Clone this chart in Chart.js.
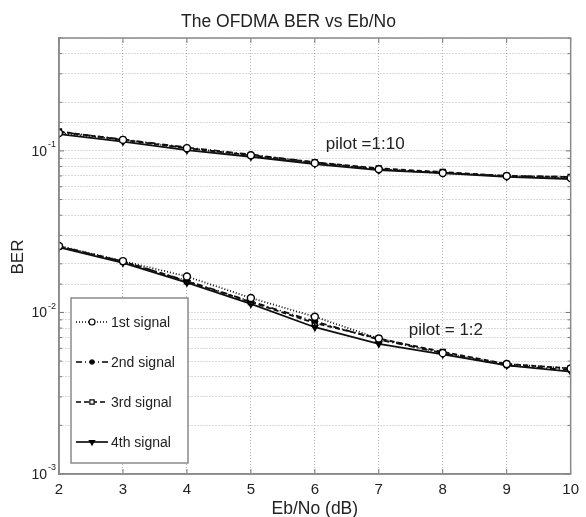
<!DOCTYPE html>
<html>
<head>
<meta charset="utf-8">
<title>The OFDMA BER vs Eb/No</title>
<script src="https://cdn.jsdelivr.net/npm/chart.js@4.4.1/dist/chart.umd.min.js"></script>
<style>
html,body{margin:0;padding:0;background:#fff;}
#box{position:relative;width:586px;height:517px;}
</style>
</head>
<body>
<div id="box"><canvas id="grafico" width="586" height="517"></canvas></div>
<script>
// dati
const ebno = [2, 3, 4, 5, 6, 7, 8, 9, 10];
const nomiSegnali = ['1st signal', '2nd signal', '3rd signal', '4th signal'];

// pilot = 1:10
const p10_s1 = [0.129, 0.117, 0.104, 0.094, 0.084, 0.077, 0.073, 0.070, 0.068];
const p10_s2 = [0.131, 0.118, 0.105, 0.095, 0.085, 0.077, 0.073, 0.070, 0.069];
const p10_s3 = [0.132, 0.117, 0.104, 0.094, 0.085, 0.078, 0.074, 0.070, 0.069];
const p10_s4 = [0.127, 0.114, 0.101, 0.092, 0.083, 0.076, 0.073, 0.069, 0.067];

// pilot = 1:2
const p2_s1 = [0.0258, 0.0208, 0.0167, 0.0123, 0.0094, 0.0069, 0.0056, 0.0048, 0.0045];
const p2_s2 = [0.0257, 0.0206, 0.0157, 0.0117, 0.0088, 0.0068, 0.0056, 0.0047, 0.0044];
const p2_s3 = [0.0256, 0.0207, 0.0156, 0.0116, 0.0086, 0.0069, 0.0057, 0.0048, 0.0045];
const p2_s4 = [0.0253, 0.0203, 0.0153, 0.0113, 0.0081, 0.0064, 0.0055, 0.0047, 0.0043];

const esponentiY = [-3, -2, -1];
const noteTesto = ['pilot =1:10', 'pilot = 1:2'];
const noteX = [6.17, 7.47];
const noteY = [0.1106, 0.0077];

(function(){
	const FONT = '"Liberation Sans", Arial, Helvetica, sans-serif';
	const stili = [
		{dash: [1, 2], punto: 'circle', fondo: '#fff', rot: 0},
		{dash: [6, 3, 1, 3], punto: 'star', fondo: '#000', rot: 0},
		{dash: [5, 3], punto: 'rect', fondo: '#fff', rot: 0},
		{dash: [], punto: 'triangle', fondo: '#000', rot: 180}
	];
	const serie10 = [p10_s1, p10_s2, p10_s3, p10_s4];
	const serie2 = [p2_s1, p2_s2, p2_s3, p2_s4];

	function dataset(valori, i){
		const s = stili[i];
		return {
			label: nomiSegnali[i],
			data: ebno.map((x, k) => ({x: x, y: valori[k]})),
			borderColor: '#111',
			borderWidth: 1.8,
			borderDash: s.dash,
			pointStyle: s.punto,
			pointRotation: s.rot,
			pointRadius: 3.5,
			pointBorderWidth: 1.4,
			pointBorderColor: '#000',
			pointBackgroundColor: s.fondo,
			fill: false,
			tension: 0
		};
	}

	const datasets = [];
	for(let i = 0; i < 4; i++){
		datasets.push(dataset(serie10[i], i));
		datasets.push(dataset(serie2[i], i));
	}

	// cornice, tacche, etichette, note e legenda
	const cornice = {
		id: 'cornice',
		afterDraw(chart){
			const ctx = chart.ctx;
			const a = chart.chartArea;
			const sx = chart.scales.x, sy = chart.scales.y;
			ctx.save();
			// tacche interne
			ctx.strokeStyle = '#777';
			ctx.lineWidth = 1;
			ctx.setLineDash([]);
			sx.ticks.forEach(t => {
				const px = sx.getPixelForValue(t.value);
				ctx.beginPath();
				ctx.moveTo(px, a.bottom); ctx.lineTo(px, a.bottom - 5);
				ctx.moveTo(px, a.top); ctx.lineTo(px, a.top + 5);
				ctx.stroke();
			});
			sy.ticks.forEach(t => {
				const py = sy.getPixelForValue(t.value);
				const l = Number.isInteger(Math.round(Math.log10(t.value) * 1000) / 1000) ? 5 : 3;
				ctx.beginPath();
				ctx.moveTo(a.left, py); ctx.lineTo(a.left + l, py);
				ctx.moveTo(a.right, py); ctx.lineTo(a.right - l, py);
				ctx.stroke();
			});
			// bordo
			ctx.strokeStyle = '#8a8a8a';
			ctx.lineWidth = 1.5;
			ctx.strokeRect(a.left, a.top, a.right - a.left, a.bottom - a.top);

			// etichette asse y con esponente
			ctx.fillStyle = '#222';
			esponentiY.forEach(e => {
				const py = sy.getPixelForValue(Math.pow(10, e));
				ctx.font = '14px ' + FONT;
				ctx.textAlign = 'right';
				ctx.textBaseline = 'middle';
				ctx.fillText('10', 47, py + 1);
				ctx.font = '9px ' + FONT;
				ctx.textAlign = 'left';
				ctx.fillText(String(e), 48, py - 6);
			});

			// titoli assi
			ctx.font = '17.5px ' + FONT;
			ctx.textAlign = 'center';
			ctx.textBaseline = 'middle';
			ctx.fillText('Eb/No (dB)', (a.left + a.right) / 2, 509);
			ctx.save();
			ctx.translate(18, 257);
			ctx.rotate(-Math.PI / 2);
			ctx.font = '17px ' + FONT;
			ctx.fillText('BER', 0, 0);
			ctx.restore();

			// note
			ctx.font = '17px ' + FONT;
			ctx.textAlign = 'left';
			ctx.textBaseline = 'middle';
			noteTesto.forEach((t, i) => {
				ctx.fillText(t, sx.getPixelForValue(noteX[i]), sy.getPixelForValue(noteY[i]));
			});

			// legenda
			const lx = 71, ly = 298, lw = 117, lh = 165;
			ctx.fillStyle = '#fff';
			ctx.fillRect(lx, ly, lw, lh);
			ctx.strokeStyle = '#8a8a8a';
			ctx.lineWidth = 1.5;
			ctx.strokeRect(lx, ly, lw, lh);
			ctx.font = '14px ' + FONT;
			nomiSegnali.forEach((nome, i) => {
				const s = stili[i];
				const y = 322 + i * 40;
				ctx.strokeStyle = '#000';
				ctx.lineWidth = 1.6;
				ctx.setLineDash(s.dash);
				ctx.beginPath();
				ctx.moveTo(76, y); ctx.lineTo(108, y);
				ctx.stroke();
				ctx.setLineDash([]);
				ctx.fillStyle = s.fondo;
				ctx.lineWidth = 1.2;
				Chart.helpers.drawPoint(ctx, {pointStyle: s.punto, rotation: s.rot, radius: 3, borderWidth: 1.2}, 92, y);
				ctx.fillStyle = '#222';
				ctx.textAlign = 'left';
				ctx.fillText(nome, 111, y + 1);
			});
			ctx.restore();
		}
	};

	function creaGrafico(){
		const canvas = document.getElementById('grafico');
		const griglia = {color: '#b4b4b4', lineWidth: 1, drawTicks: false};
		const bordo = {display: true, color: '#8a8a8a', width: 1.5, dash: [1, 2]};
		return new Chart(canvas.getContext('2d'), {
			type: 'line',
			data: {datasets: datasets},
			options: {
				responsive: false,
				animation: false,
				devicePixelRatio: 1,
				layout: {padding: {left: 0, right: 9, top: 0, bottom: 0}},
				plugins: {
					legend: {display: false},
					tooltip: {enabled: false},
					title: {
						display: true,
						text: 'The OFDMA BER vs Eb/No',
						color: '#222',
						font: {family: FONT, size: 17.5, weight: 'normal'},
						padding: {top: 12, bottom: 5}
					}
				},
				scales: {
					x: {
						type: 'linear',
						min: 2, max: 10,
						ticks: {stepSize: 1, color: '#222', padding: 7, font: {family: FONT, size: 15}},
						grid: griglia,
						border: bordo,
						afterFit: s => { s.height = 43; }
					},
					y: {
						type: 'logarithmic',
						min: 0.001, max: 0.5,
						ticks: {display: false, autoSkip: false},
						grid: griglia,
						border: bordo,
						afterFit: s => { s.width = 59; }
					}
				}
			},
			plugins: [cornice]
		});
	}

	if(document.readyState === 'loading') document.addEventListener('DOMContentLoaded', creaGrafico);
	else creaGrafico();
})();
</script>
</body>
</html>
